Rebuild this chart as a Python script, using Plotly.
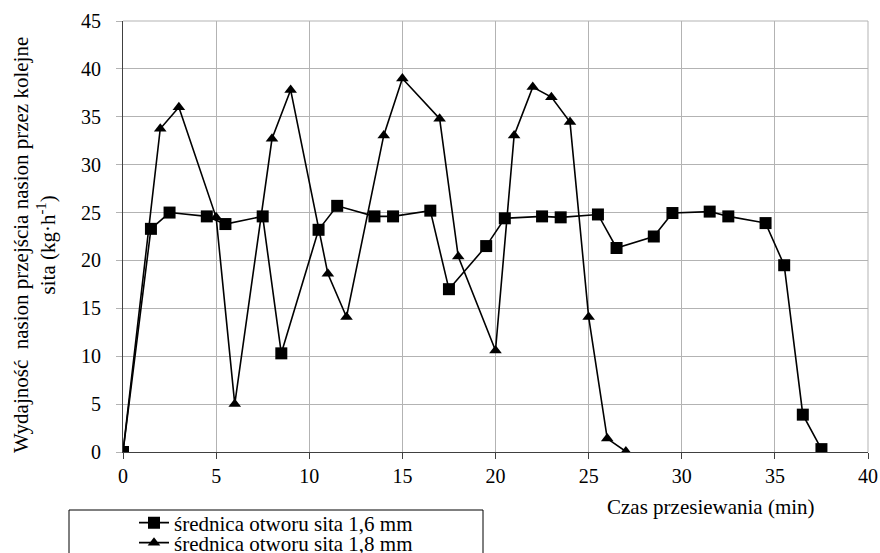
import plotly.graph_objects as go

# Series 1: sieve hole diameter 1.6 mm
x_16 = [0, 1.5, 2.5, 4.5, 5.5, 7.5, 8.5, 10.5, 11.5, 13.5, 14.5, 16.5, 17.5, 19.5, 20.5,
        22.5, 23.5, 25.5, 26.5, 28.5, 29.5, 31.5, 32.5, 34.5, 35.5, 36.5, 37.5]
y_16 = [0, 23.3, 25.0, 24.6, 23.8, 24.6, 10.3, 23.2, 25.7, 24.6, 24.6, 25.2, 17.0, 21.5, 24.4,
        24.6, 24.5, 24.8, 21.3, 22.5, 24.95, 25.1, 24.6, 23.9, 19.5, 3.9, 0.3]

# Series 2: sieve hole diameter 1.8 mm
x_18 = [0, 2, 3, 5, 6, 8, 9, 11, 12, 14, 15, 17, 18, 20, 21, 22, 23, 24, 25, 26, 27]
y_18 = [0, 33.75, 36.0, 24.5, 5.0, 32.7, 37.8, 18.6, 14.1, 33.05, 39.0, 34.8, 20.4, 10.6,
        33.05, 38.1, 37.05, 34.45, 14.1, 1.4, 0.05]

name_16 = "średnica otworu sita 1,6 mm"
name_18 = "średnica otworu sita 1,8 mm"
x_ticks = [0, 5, 10, 15, 20, 25, 30, 35, 40]
y_ticks = [0, 5, 10, 15, 20, 25, 30, 35, 40, 45]

FONT = "'Liberation Serif', 'Times New Roman', 'DejaVu Serif', serif"
FS = 21
TFS = 20

fig = go.Figure()
fig.add_trace(go.Scatter(
    x=x_18, y=y_18, mode="lines+markers", name=name_18, legend="legend2",
    line=dict(color="black", width=1.6),
    marker=dict(symbol="triangle-up", size=11, color="black"),
))
fig.add_trace(go.Scatter(
    x=x_16, y=y_16, mode="lines+markers", name=name_16, legend="legend",
    line=dict(color="black", width=1.6),
    marker=dict(symbol="square", size=12, color="black"),
))

L, R, T, B = 123, 12, 21, 101
W, H = 880, 553
pw = W - L - R
ph = H - T - B

def px_x(p):
    return (p - L) / pw

def px_y(p):
    return (H - B - p) / ph

fig.update_layout(
    width=W, height=H,
    margin=dict(l=L, r=R, t=T, b=B, autoexpand=False),
    paper_bgcolor="white", plot_bgcolor="white",
    font=dict(family=FONT, size=FS, color="black"),
    showlegend=True,
    legend=dict(x=px_x(134), y=px_y(523), xanchor="left", yanchor="middle",
                bgcolor="rgba(0,0,0,0)", borderwidth=0, font=dict(family=FONT, size=FS)),
    legend2=dict(x=px_x(134), y=px_y(543), xanchor="left", yanchor="middle",
                 bgcolor="rgba(0,0,0,0)", borderwidth=0, font=dict(family=FONT, size=FS)),
    xaxis=dict(range=[0, 40], tickvals=x_ticks, ticktext=[str(v) for v in x_ticks],
               showgrid=True, gridcolor="#b3b3b3", gridwidth=1,
               showline=True, linecolor="#404040", linewidth=1,
               ticks="outside", ticklen=6, tickcolor="#404040",
               zeroline=False, tickfont=dict(family=FONT, size=TFS)),
    yaxis=dict(range=[0, 45], tickvals=y_ticks, ticktext=[str(v) for v in y_ticks],
               showgrid=True, gridcolor="#b3b3b3", gridwidth=1,
               showline=True, linecolor="#404040", linewidth=1,
               ticks="outside", ticklen=6, tickcolor="#b3b3b3",
               zeroline=False, tickfont=dict(family=FONT, size=TFS),
               ticklabelstandoff=11),
    shapes=[
        dict(type="rect", xref="paper", yref="paper",
             x0=px_x(69), x1=px_x(483), y0=px_y(560), y1=px_y(510),
             line=dict(color="black", width=1), fillcolor="rgba(0,0,0,0)"),
        dict(type="line", xref="paper", yref="paper",
             x0=1, x1=1, y0=0, y1=1, line=dict(color="#b3b3b3", width=1)),
        dict(type="line", xref="paper", yref="paper",
             x0=0, x1=1, y0=1, y1=1, line=dict(color="#b3b3b3", width=1)),
    ],
    annotations=[
        dict(text="Czas przesiewania (min)", xref="paper", yref="paper",
             x=px_x(711), y=px_y(507), xanchor="center", yanchor="middle",
             showarrow=False, font=dict(family=FONT, size=FS)),
        dict(text="Wydajność  nasion przejścia nasion przez kolejne<br>sita (kg·h<sup>-1</sup>)",
             xref="paper", yref="paper", x=px_x(34), y=px_y(245),
             xanchor="center", yanchor="middle", textangle=-90,
             showarrow=False, font=dict(family=FONT, size=FS)),
    ],
)

fig.write_html("out.html", config={"displayModeBar": False},
               post_script="document.body.style.margin='0';document.body.style.padding='0';")
